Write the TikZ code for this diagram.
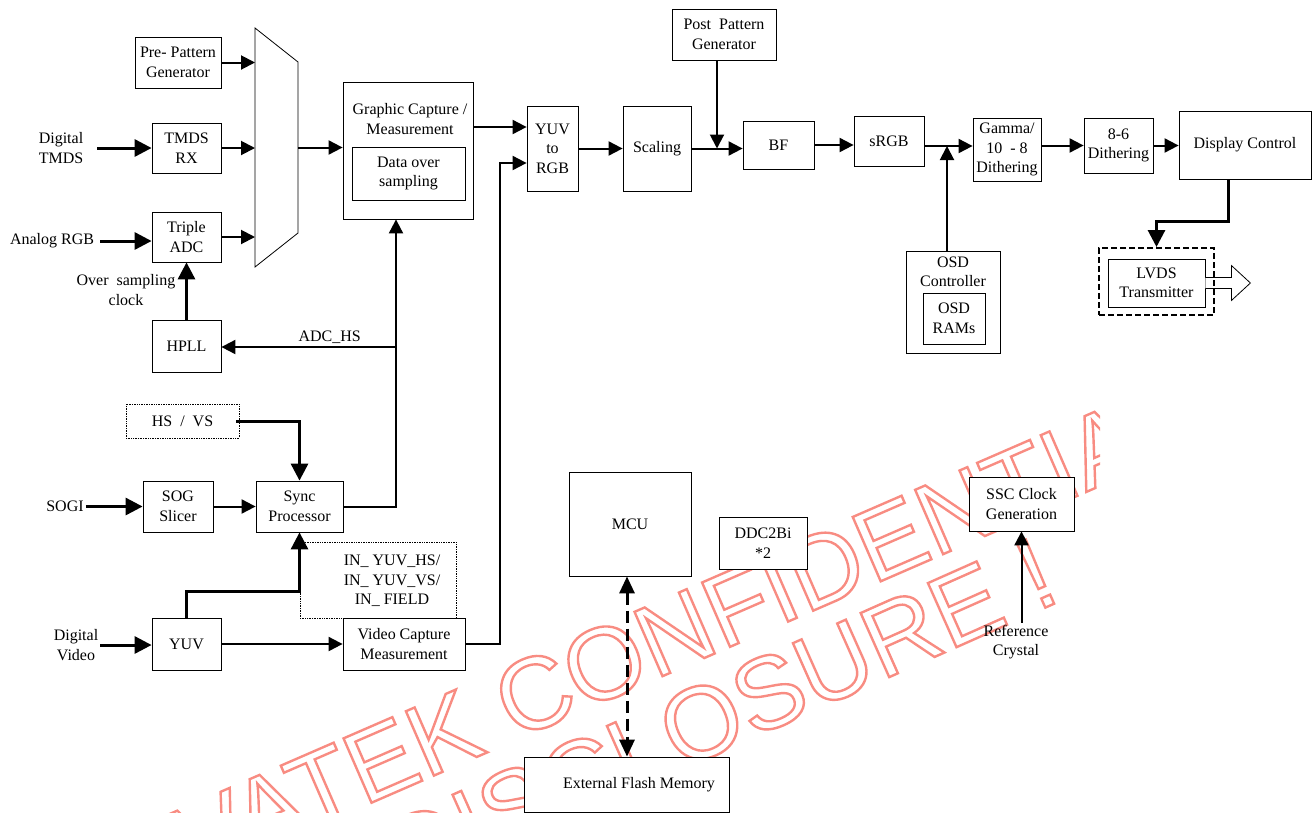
\documentclass[tikz,border=0pt]{standalone}
\usepackage{fontspec}
\setmainfont{Liberation Serif}
\newfontfamily\wmfont{Liberation Sans}
\usetikzlibrary{arrows.meta,calc}
\definecolor{wmred}{RGB}{248,140,130}
\newcommand\fs{\fontsize{16}{19.5}\selectfont}
\newcommand\outln{\special{pdf:literal direct 1 Tr 2.4 w}}
\tikzset{
  block/.style={draw,fill=white,line width=0.8pt,inner sep=1pt,align=center,font=\fs},
  dotbox/.style={draw,densely dotted,fill=white,line width=0.7pt,inner sep=1pt,align=center,font=\fs},
  lbl/.style={inner sep=2pt,align=center,font=\fs},
  bs/.style 2 args={minimum width=#1pt,minimum height=#2pt},
  arr/.style={line width=2pt,-{Triangle[length=14pt,width=14pt]}},
  thk/.style={line width=3pt,-{Triangle[length=17pt,width=17pt]}},
  dsh/.style={line width=3pt,dash pattern=on 12pt off 6pt,
    {Triangle[length=17pt,width=15pt]}-{Triangle[length=17pt,width=15pt]}},
  wmark/.style={font=\wmfont\fontsize{102}{104}\selectfont,inner sep=0pt,text=wmred}
}

\begin{document}
\begin{tikzpicture}[x=1pt,y=-1pt]
  \useasboundingbox (0,0) rectangle (1312,812);
  % watermark
  \begin{scope}
    \clip (0,0) rectangle (1100,812);
    \node[wmark,rotate=23.5] (wmtop) at (614,659) {\outln NOVATEK CONFIDENTIAL};
    \node[wmark,rotate=24] (wmbot) at (637,751) {\outln NO DISCLOSURE !};
  \end{scope}

  % input side
  \node[block,bs={86}{51}] (pre) at (178,62.5) {Pre- Pattern\\Generator};
  \node[block,bs={69}{50}] (tmds) at (186.5,148) {TMDS\\RX};
  \node[block,bs={69}{50}] (adc) at (186.5,237) {Triple\\ADC};
  \node[block,bs={69}{52}] (hpll) at (186.5,346) {HPLL};
  \node[bs={43}{239},inner sep=0pt,outer sep=0pt] (mux) at (276.5,147.5) {};
  \draw[line width=0.8pt] (mux.north west) -- ($(mux.north east)+(0,34)$)
    -- ($(mux.south east)+(0,-34)$) -- (mux.south west) -- cycle;
  \node[block,bs={130}{137}] (gc) at (408,150.5) {};
  \node[lbl] (gclab) at (410,119) {Graphic Capture /\\Measurement};
  \node[block,bs={113}{53}] (dos) at (408.5,173.5) {Data over\\sampling};

  \node[lbl] (dtmds) at (61,148) {Digital\\TMDS};
  \node[lbl] (argb) at (52,241) {Analog RGB};
  \node[lbl] (osclk) at (126,290) {Over\ \ sampling\\clock};

  % processing chain
  \node[block,bs={51}{85}] (yuvrgb) at (552.5,148.5) {YUV\\to\\RGB};
  \node[block,bs={68}{85}] (scal) at (657,148.5) {Scaling};
  \node[block,bs={104}{51}] (post) at (724,34.5) {Post\ \ Pattern\\Generator};
  \node[block,bs={71}{48}] (bf) at (778.5,145) {BF};
  \node[block,bs={70}{50}] (srgb) at (889,141) {sRGB};
  \node[block,bs={68}{63}] (gamma) at (1007,149.5) {Gamma/\\10\ \ - 8\\Dithering};
  \node[block,bs={69}{55}] (dith) at (1118.5,145.5) {8-6\\Dithering};
  \node[block,bs={132}{68}] (disp) at (1245,145) {Display Control};
  \node[block,bs={97}{48}] (lvds) at (1156.5,283) {LVDS\\Transmitter};
  \draw[line width=0.8pt,fill=white] (lvds.east) ++(0,-5.5) -- ++(26,0) -- ++(0,-12)
    -- ++(19,17.5) -- ++(-19,17.5) -- ++(0,-12) -- ++(-26,0);
  \node[draw,line width=2pt,dash pattern=on 6pt off 3pt,bs={115}{67}] (lvdsfr) at (1156.5,281.5) {};
  \node[block,bs={94}{102}] (osd) at (953,302) {};
  \node[lbl] (osdlab) at (953,272) {OSD\\Controller};
  \node[block,bs={62}{51}] (ram) at (954,318.5) {OSD\\RAMs};

  % sync and video input
  \node[dotbox,bs={113}{34}] (hsvs) at (182.5,421) {HS\ \ /\ \ VS};
  \node[block,bs={70}{51}] (sog) at (178,506.5) {SOG\\Slicer};
  \node[block,bs={87}{51}] (sync) at (299.5,506.5) {Sync\\Processor};
  \node[dotbox,bs={156}{76}] (inyuv) at (378,580) {};
  \node[lbl] (inlab) at (392,581) {IN\_ YUV\_HS/\\IN\_ YUV\_VS/\\IN\_ FIELD};
  \node[block,bs={69}{52}] (yuv) at (186.5,644) {YUV};
  \node[block,bs={122}{52}] (vcap) at (404,644) {Video Capture\\Measurement};
  \node[lbl] (sogi) at (65,506.5) {SOGI};
  \node[lbl] (dvid) at (76,645) {Digital\\Video};

  % mcu side
  \node[block,bs={122}{104}] (mcu) at (630,524) {MCU};
  \node[block,bs={88}{52}] (ddc) at (763,543) {DDC2Bi\\*2};
  \node[block,bs={105}{54}] (ssc) at (1021.5,504) {SSC Clock\\Generation};
  \node[block,bs={205}{55}] (flash) at (626.5,784.5) {\hspace*{25pt}External Flash Memory};
  \node[lbl] (xtal) at (1016,642) {Reference\\Crystal};

  % connectors
  \draw[thk] ([xshift=12pt]dtmds.east) -- (dtmds.east -| tmds.west);
  \draw[thk] ([xshift=4pt]argb.east) -- (argb.east -| adc.west);
  \draw[thk] (hpll.north) -- (adc.south);
  \draw[arr] (pre.east) -- (pre.east -| mux.west);
  \draw[arr] (tmds.east) -- (tmds.east -| mux.west);
  \draw[arr] (adc.east) -- (adc.east -| mux.west);
  \draw[arr] (mux.east) -- (mux.east -| gc.west);
  \coordinate (hsx) at (396,347);
  \draw[arr] (sync.east) -| (hsx) -- (hsx |- gc.south);
  \draw[arr] (hsx) -- (hsx -| hpll.east) node[lbl,pos=0.38,above] (adchs) {ADC\_HS};
  \draw[arr] ([yshift=23.5pt]gc.east) -- ([yshift=23.5pt]gc.east -| yuvrgb.west);
  \coordinate (vbus) at (500,163);
  \draw[arr] (vcap.east) -| (vbus) -- (vbus -| yuvrgb.west);
  \draw[arr] (yuvrgb.east) -- (scal.west);
  \draw[arr] (scal.east) -- (scal.east -| bf.west);
  \coordinate (pjn) at (717,148.5);
  \draw[arr] (pjn |- post.south) -- (pjn);
  \draw[arr] (bf.east) -- (bf.east -| srgb.west);
  \coordinate (ojn) at (947,146);
  \draw[arr] (srgb.east |- ojn) -- (ojn -| gamma.west);
  \draw[arr] (ojn |- osd.north) -- (ojn);
  \draw[arr] (gamma.east |- dith.west) -- (dith.west);
  \draw[arr] (dith.east) -- (dith.east -| disp.west);
  \draw[thk] ([xshift=-17pt]disp.south) -- ++(0,42) -| (lvdsfr.north);
  \draw[thk] ([xshift=-3pt]hsvs.east) -| (sync.north);
  \draw[thk] (sogi.east) -- (sog.west);
  \draw[arr] (sog.east) -- (sync.west);
  \draw[thk] (yuv.north) -- ++(0,-26) -| (sync.south);
  \draw[thk] (dvid.east) -- (dvid.east -| yuv.west);
  \draw[arr] (yuv.east) -- (vcap.west);
  \draw[arr] (ssc.south |- xtal.north) -- (ssc.south);
  \draw[dsh] ([xshift=-3pt]mcu.south) -- ([xshift=-3pt]mcu.south |- flash.north);
\end{tikzpicture}
\end{document}
